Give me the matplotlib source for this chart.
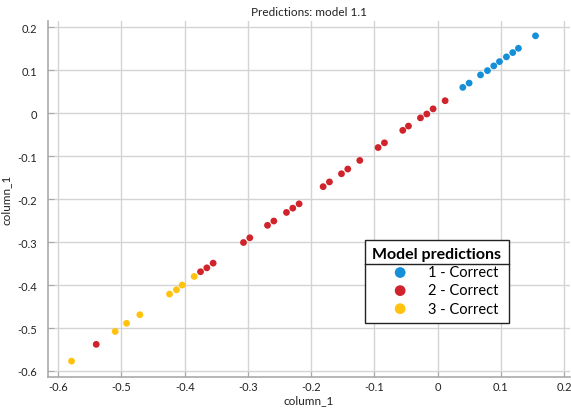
import matplotlib

matplotlib.use("Agg")
import matplotlib.pyplot as plt
from matplotlib.lines import Line2D

plt.rcParams["font.family"] = ["Lato", "DejaVu Sans"]

class_labels = ["1 - Correct", "2 - Correct", "3 - Correct"]
class_colors = ["#1590d8", "#d0232b", "#ffc20e"]

x_class1 = [0.040, 0.050, 0.068, 0.079, 0.089, 0.098, 0.109, 0.119, 0.128, 0.155]
y_class1 = [0.060, 0.070, 0.089, 0.099, 0.110, 0.120, 0.131, 0.141, 0.151, 0.180]

x_class2 = [0.012, -0.007, -0.017, -0.027, -0.046, -0.055, -0.084, -0.094,
            -0.123, -0.142, -0.152, -0.171, -0.181, -0.219, -0.229, -0.239,
            -0.259, -0.269, -0.297, -0.307, -0.355, -0.365, -0.375, -0.540]
y_class2 = [0.029, 0.010, -0.002, -0.011, -0.030, -0.040, -0.069, -0.080,
            -0.110, -0.130, -0.141, -0.160, -0.171, -0.211, -0.221, -0.231,
            -0.251, -0.261, -0.290, -0.301, -0.349, -0.360, -0.369, -0.538]

x_class3 = [-0.579, -0.510, -0.492, -0.471, -0.424, -0.413, -0.404, -0.385]
y_class3 = [-0.577, -0.508, -0.489, -0.469, -0.421, -0.411, -0.400, -0.380]

x_ticks = [-0.6, -0.5, -0.4, -0.3, -0.2, -0.1, 0.0, 0.1, 0.2]
x_tick_labels = ["-0.6", "-0.5", "-0.4", "-0.3", "-0.2", "-0.1", "0", "0.1", "0.2"]
y_ticks = [-0.6, -0.5, -0.4, -0.3, -0.2, -0.1, 0.0, 0.1, 0.2]
y_tick_labels = ["-0.6", "-0.5", "-0.4", "-0.3", "-0.2", "-0.1", "0", "0.1", "0.2"]

fig = plt.figure(figsize=(5.71, 4.10), dpi=100)
ax = fig.add_axes([0.0846, 0.0773, 0.913, 0.870])

series = [(x_class1, y_class1), (x_class2, y_class2), (x_class3, y_class3)]
for (xs, ys), label, color in zip(series, class_labels, class_colors):
    ax.scatter(xs, ys, s=24, color=color, edgecolors="none", label=label, zorder=3)

ax.set_xlim(-0.6158, 0.209)
ax.set_ylim(-0.6147, 0.2154)
ax.set_xticks(x_ticks, x_tick_labels)
ax.set_yticks(y_ticks, y_tick_labels)
ax.grid(True, color="#d4d4d4", linewidth=1.0)
ax.set_axisbelow(True)
for side in ("top", "right"):
    ax.spines[side].set_visible(False)
for side in ("left", "bottom"):
    ax.spines[side].set_color("#aaaaaa")
    ax.spines[side].set_linewidth(1.2)
ax.tick_params(direction="in", length=4, color="#aaaaaa", labelsize=8,
               labelcolor="#222222", pad=3)
ax.tick_params(axis="y", pad=8)

ax.set_title("Predictions: model 1.1", fontsize=8.5, color="#222222", pad=4)
ax.set_xlabel("column_1", fontsize=8.5, color="#222222", labelpad=1)
ax.set_ylabel("column_1", fontsize=8.5, color="#222222", labelpad=4)

legend = ax.legend(
    title="Model predictions",
    loc="upper left",
    bbox_to_anchor=(0.6075, 0.385),
    frameon=True,
    fancybox=False,
    edgecolor="#222222",
    framealpha=1.0,
    fontsize=10.5,
    title_fontproperties={"weight": "bold", "size": 11.5},
    handletextpad=0.2,
    borderpad=0.5,
    labelspacing=0.28,
    handlelength=3.4,
    borderaxespad=0,
)
legend.get_frame().set_linewidth(1.0)
for handle in legend.legend_handles:
    handle.set_sizes([60])

fig.canvas.draw()
title_box = legend.get_title().get_window_extent()
frame_box = legend.get_frame().get_window_extent()
inv = fig.transFigure.inverted()
(fx0, fy), (fx1, _) = inv.transform([[frame_box.x0, title_box.y0 - 3],
                                      [frame_box.x1, title_box.y0 - 3]])
fig.add_artist(Line2D([fx0, fx1], [fy, fy], color="#222222", linewidth=1.0,
                      transform=fig.transFigure, zorder=10))

fig.savefig("out.png", dpi=100)
